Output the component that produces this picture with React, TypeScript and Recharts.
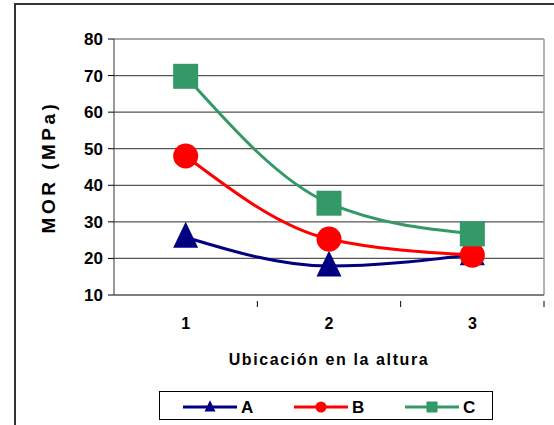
import React from 'react';
import { LineChart, Line, XAxis, YAxis, CartesianGrid, ReferenceLine } from 'recharts';

const positions = [1, 2, 3];
const serieA = [25.8, 17.9, 21.0];
const serieB = [48.0, 25.3, 20.9];
const serieC = [69.8, 35.1, 26.7];
const yTicks = [10, 20, 30, 40, 50, 60, 70, 80];

const series = [
  { key: 'A', color: '#000080', shape: 'triangle' },
  { key: 'B', color: '#FF0000', shape: 'circle' },
  { key: 'C', color: '#339966', shape: 'square' },
];

const data = positions.map((p, i) => ({ pos: p, A: serieA[i], B: serieB[i], C: serieC[i] }));

const FONT = 'Arial, "Liberation Sans", sans-serif';
const PLOT_W = 430;
const HALF_BAND = PLOT_W / positions.length / 2;

function Marker({ cx, cy, shape, color, size }: any) {
  if (cx == null || cy == null) return null;
  const s = size;
  if (shape === 'triangle') {
    return <polygon points={`${cx},${cy - s * 0.62} ${cx - s / 2},${cy + s * 0.42} ${cx + s / 2},${cy + s * 0.42}`} fill={color} />;
  }
  if (shape === 'circle') return <circle cx={cx} cy={cy} r={s / 2} fill={color} />;
  return <rect x={cx - s / 2} y={cy - s / 2} width={s} height={s} fill={color} />;
}

function XTick({ x, y, payload }: any) {
  return (
    <g>
      <line x1={x + HALF_BAND} y1={y - 2} x2={x + HALF_BAND} y2={y + 4} stroke="#000" />
      <text x={x} y={y + 26} textAnchor="middle" fontFamily={FONT} fontWeight="bold" fontSize={16} fill="#000">
        {payload.value}
      </text>
    </g>
  );
}

function LegendBox() {
  return (
    <div style={{ position: 'absolute', left: 159, top: 391, width: 334, height: 29, border: '1px solid #000', boxSizing: 'border-box', background: '#fff' }}>
      <svg width={334} height={29}>
        {series.map((s, i) => {
          const x0 = 23 + i * 111;
          return (
            <g key={s.key}>
              <line x1={x0} y1={15} x2={x0 + 54} y2={15} stroke={s.color} strokeWidth={3} />
              <Marker cx={x0 + 27} cy={15} shape={s.shape} color={s.color} size={11} />
              <text x={x0 + 58} y={21} fontFamily={FONT} fontWeight="bold" fontSize={17} fill="#000">{s.key}</text>
            </g>
          );
        })}
      </svg>
    </div>
  );
}

export default function App() {
  return (
    <div style={{ position: 'absolute', left: 0, top: 0, width: 554, height: 425, background: '#fff', overflow: 'hidden' }}>
      <div style={{ position: 'absolute', left: 14, top: 3, width: 560, height: 440, borderLeft: '2px solid #333', borderTop: '2px solid #333' }} />
      <LineChart width={554} height={425} data={data} margin={{ top: 39, right: 10, bottom: 129, left: 0 }}>
        <CartesianGrid vertical={false} stroke="#555" strokeWidth={1.2} />
        <XAxis
          dataKey="pos"
          type="number"
          domain={[0.5, 3.5]}
          ticks={positions}
          tickLine={false}
          axisLine={{ stroke: '#555', strokeWidth: 1.2 }}
          tick={<XTick />}
          interval={0}
          height={1}
        />
        <YAxis
          domain={[10, 80]}
          ticks={yTicks}
          width={114}
          tickSize={6}
          tickMargin={5}
          axisLine={{ stroke: '#555', strokeWidth: 1.2 }}
          tickLine={{ stroke: '#000' }}
          tick={{ fontFamily: FONT, fontWeight: 'bold', fontSize: 17, fill: '#000' }}
          label={{
            value: 'MOR (MPa)',
            angle: -90,
            position: 'insideLeft',
            offset: 0,
            dx: 48,
            style: { fontFamily: FONT, fontWeight: 'bold', fontSize: 19, fill: '#000', letterSpacing: 3.5, textAnchor: 'middle' },
          }}
        />
        <ReferenceLine x={3.5} stroke="#999" strokeWidth={1.5} />
        {series.map((s) => (
          <Line
            key={s.key}
            dataKey={s.key}
            type="monotone"
            stroke={s.color}
            strokeWidth={3}
            isAnimationActive={false}
            dot={(p: any) => <Marker key={`${s.key}-${p.index}`} cx={p.cx} cy={p.cy} shape={s.shape} color={s.color} size={25} />}
            activeDot={false}
          />
        ))}
      </LineChart>
      <div style={{ position: 'absolute', left: 0, width: 554, top: 351, textAlign: 'center', paddingLeft: 104, boxSizing: 'border-box', fontFamily: FONT, fontWeight: 'bold', fontSize: 16, letterSpacing: 1.6, color: '#000' }}>
        Ubicación en la altura
      </div>
      <LegendBox />
    </div>
  );
}
